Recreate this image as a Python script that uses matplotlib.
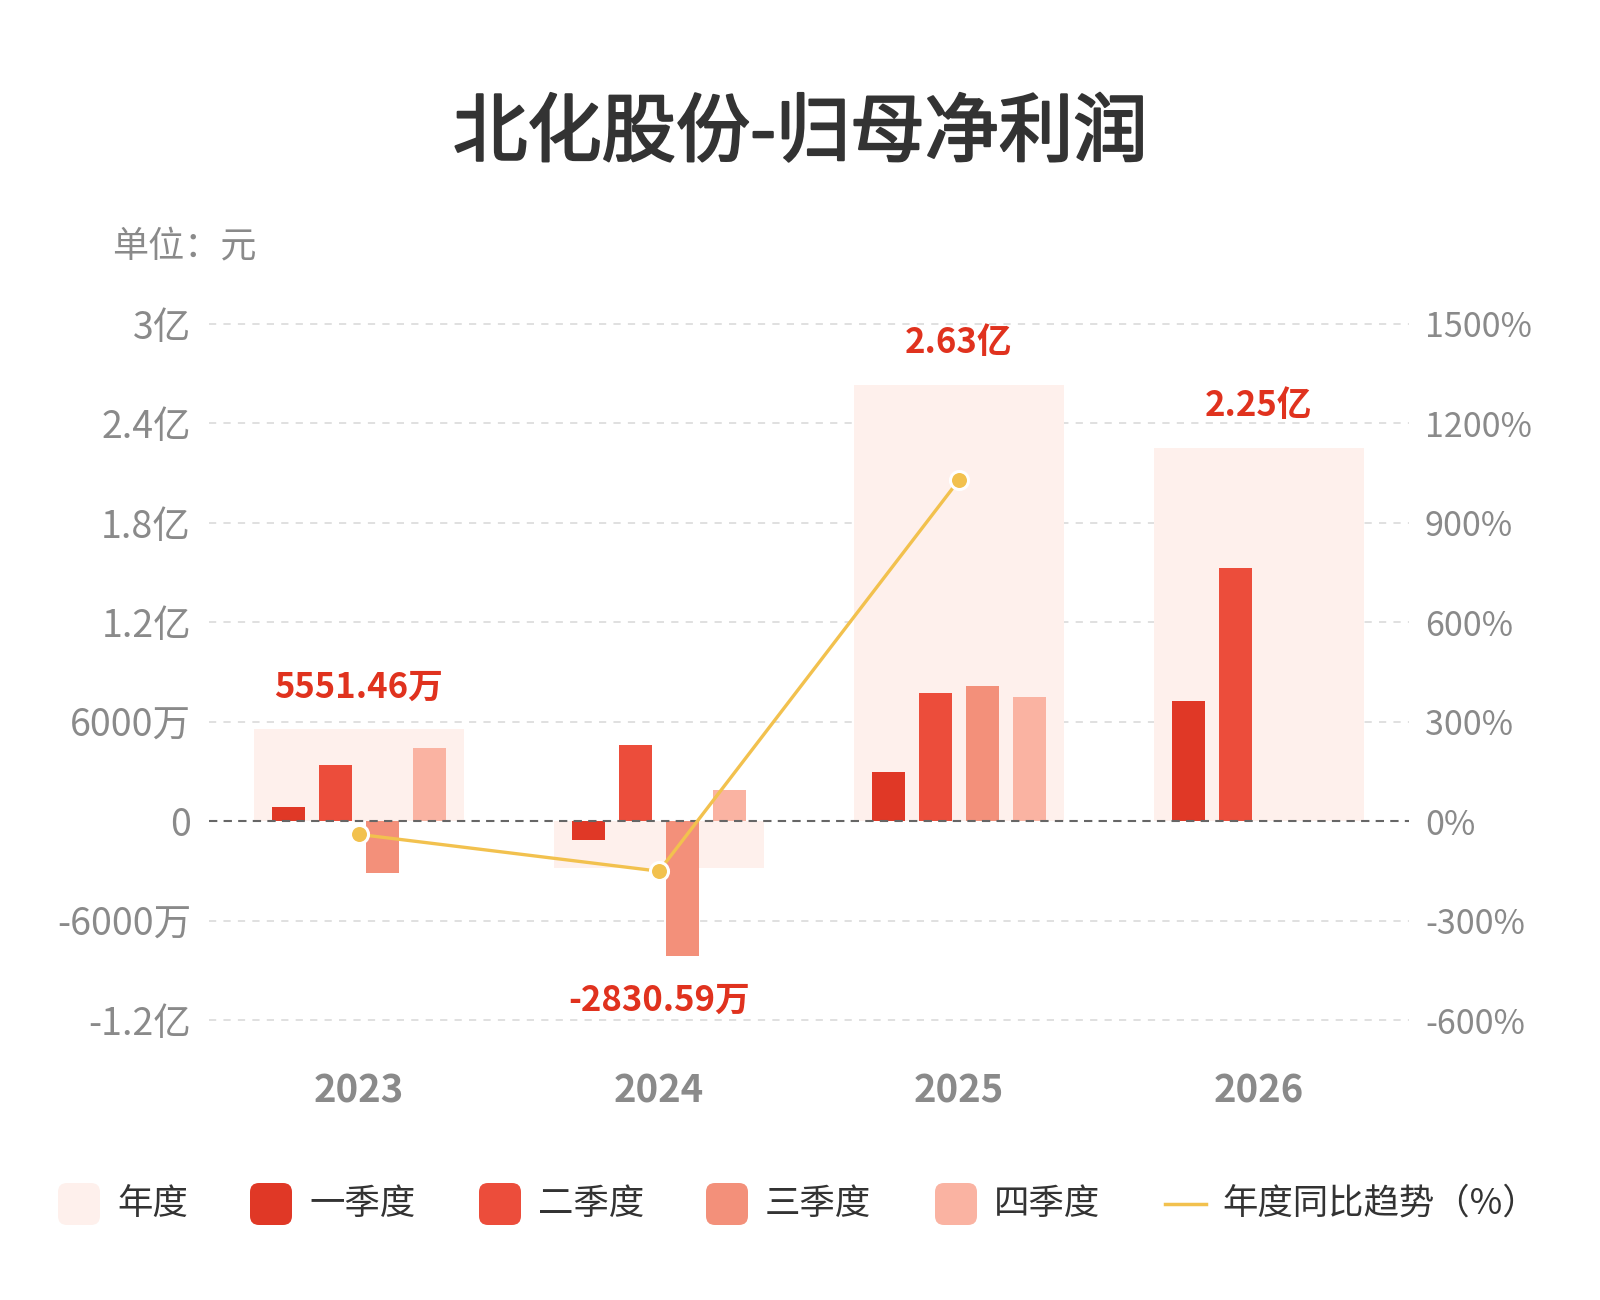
import matplotlib
matplotlib.use("Agg")
import matplotlib.pyplot as plt
import matplotlib.patheffects as pe
from matplotlib.patches import FancyBboxPatch
from matplotlib.lines import Line2D
import numpy as np

plt.rcParams["font.family"] = ["Noto Sans CJK SC", "DejaVu Sans"]

# data, unit: 万元
years = ["2023", "2024", "2025", "2026"]
annual = [5551.46, -2830.59, 26300, 22500]
annual_labels = ["5551.46万", "-2830.59万", "2.63亿", "2.25亿"]
q1 = [870, -1110, 2970, 7240]
q2 = [3400, 4580, 7730, 15260]
q3 = [-3120, -8160, 8160, None]
q4 = [4400, 1860, 7480, None]
growth = [-40, -151, 1029]  # %, 2023-2025

left_ticks = [-12000, -6000, 0, 6000, 12000, 18000, 24000, 30000]
left_labels = ["-1.2亿", "-6000万", "0", "6000万", "1.2亿", "1.8亿", "2.4亿", "3亿"]
right_ticks = [-600, -300, 0, 300, 600, 900, 1200, 1500]
right_labels = ["-600%", "-300%", "0%", "300%", "600%", "900%", "1200%", "1500%"]

legend_names = ["年度", "一季度", "二季度", "三季度", "四季度"]

c_year = "#FEF0EC"
c_q = ["#E03826", "#EC4D3B", "#F3907A", "#FAB3A2"]
c_line = "#F2C14E"
c_red = "#E0321E"
c_grey = "#8A8A8A"

fig = plt.figure(figsize=(16, 13), dpi=100)
ax = fig.add_axes([0.1306, 0.2090, 0.75, 0.5482])

x = np.arange(len(years))
ax.bar(x, annual, width=0.70, color=c_year, zorder=1)
offs = [-1.5, -0.5, 0.5, 1.5]
for k, q in enumerate([q1, q2, q3, q4]):
    xs = [xi + offs[k] * 0.157 for xi, v in zip(x, q) if v is not None]
    vs = [v for v in q if v is not None]
    ax.bar(xs, vs, width=0.112, color=c_q[k], zorder=3)

ax.set_xlim(-0.5, 3.5)
ax.set_ylim(-12500, 30500)
for t in left_ticks:
    if t == 0:
        ax.axhline(0, color="#666666", lw=1.5, ls=(0, (4, 3)), zorder=4)
    else:
        ax.axhline(t, color="#DDDDDD", lw=1.3, ls=(0, (4, 4)), zorder=0)

ax.set_yticks(left_ticks)
ax.set_yticklabels(left_labels)
ax.tick_params(axis="y", length=0, pad=13, labelsize=27, labelcolor=c_grey)
ax.set_xticks(x)
ax.set_xticklabels(years, fontweight="bold")
ax.tick_params(axis="x", length=0, pad=31, labelsize=27.5, labelcolor=c_grey)
for s in ax.spines.values():
    s.set_visible(False)

# value labels
for i, v in enumerate(annual):
    vals = [v] + [q[i] for q in [q1, q2, q3, q4] if q[i] is not None]
    if v >= 0:
        ax.annotate(annual_labels[i], (x[i], max(vals)), xytext=(0, 30.5),
                    textcoords="offset points", ha="center", va="center",
                    fontsize=25, fontweight="bold", color=c_red)
    else:
        ax.annotate(annual_labels[i], (x[i], min(vals)), xytext=(0, -31.5),
                    textcoords="offset points", ha="center", va="center",
                    fontsize=25, fontweight="bold", color=c_red)

ax2 = ax.twinx()
ax2.set_ylim(-625, 1525)
ax2.plot(x[:len(growth)], growth, color=c_line, lw=2.4, marker="o", markersize=13,
         markerfacecolor=c_line, markeredgecolor="white", markeredgewidth=2.2, zorder=5)
ax2.set_yticks(right_ticks)
ax2.set_yticklabels(right_labels)
ax2.tick_params(axis="y", length=0, pad=11.5, labelsize=24.5, labelcolor=c_grey)
for s in ax2.spines.values():
    s.set_visible(False)

fig.text(0.5, 0.897, "北化股份-归母净利润", ha="center", va="center", fontsize=53.5,
         color="#333333",
         path_effects=[pe.withStroke(linewidth=1.6, foreground="#333333")])
fig.text(0.07, 0.81, "单位：元", ha="left", va="center", fontsize=26, color=c_grey)

# legend
tr = fig.dpi_scale_trans
leg_x = [0.58, 2.50, 4.79, 7.06, 9.35]
ly = 0.96
for i, name in enumerate(legend_names):
    col = c_year if i == 0 else c_q[i - 1]
    p = FancyBboxPatch((leg_x[i], ly - 0.21), 0.42, 0.42,
                       boxstyle="round,pad=0,rounding_size=0.09",
                       transform=tr, facecolor=col, edgecolor="none")
    fig.add_artist(p)
    fig.text(leg_x[i] + 0.59, ly, name, transform=tr, ha="left", va="center",
             fontsize=25.5, color="#333333")
fig.add_artist(Line2D([11.65, 12.06], [ly, ly], transform=tr, color=c_line, lw=2.5))
fig.text(12.22, ly, "年度同比趋势（%）", transform=tr, ha="left", va="center",
         fontsize=25.5, color="#333333")

fig.savefig("out.png", dpi=100, facecolor="white")
